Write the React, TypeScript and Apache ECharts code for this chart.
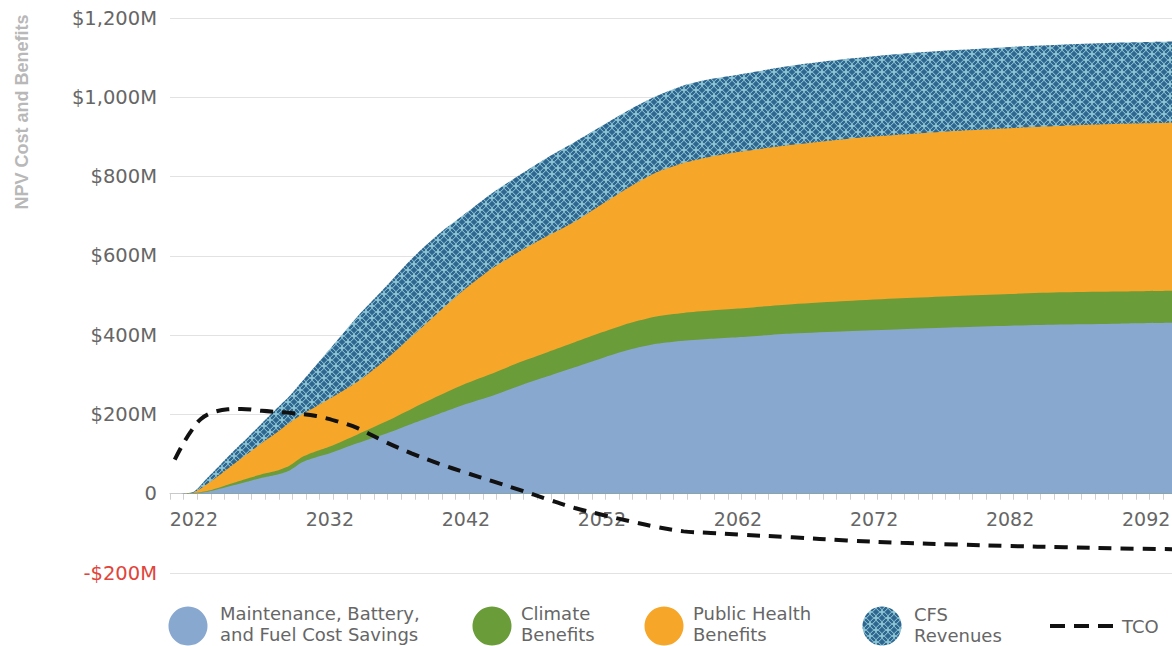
import React, { useEffect, useRef } from 'react';
import * as echarts from 'echarts';

// ---- data (values in $M, NPV) ----
const years = [2021, 2022, 2023, 2024, 2025, 2026, 2027, 2028, 2029, 2030, 2031, 2032, 2034, 2036, 2038, 2040, 2042, 2044, 2046, 2048, 2050, 2052, 2054, 2056, 2058, 2060, 2062, 2066, 2070, 2074, 2078, 2082, 2086, 2090, 2094];
const maintenance = [0, 1, 5, 13, 22, 31, 40, 47, 58, 80, 92, 102, 127, 150, 176, 201, 226, 248, 273, 296, 319, 342, 363, 378, 386, 391, 395, 404, 410, 415, 420, 424, 427, 429, 431];
const climate = [0, 1, 2, 4, 6, 8, 9, 10, 12, 13, 15, 17, 22, 30, 38, 46, 52, 56, 59, 61, 63, 65, 67, 69, 70, 71, 72, 74, 76, 78, 79, 80, 81, 81, 81];
const publicHealth = [0, 1, 18, 33, 48, 63, 79, 95, 108, 108, 113, 121, 133, 155, 182, 211, 240, 266, 280, 293, 304, 323, 343, 363, 378, 388, 395, 402, 409, 413, 416, 418, 420, 423, 424];
const cfsRevenues = [0, 2, 15, 25, 34, 41, 50, 60, 67, 84, 105, 125, 164, 183, 196, 197, 190, 190, 193, 198, 201, 198, 195, 193, 196, 196, 195, 200, 202, 204, 204, 205, 205, 205, 205];

const tcoYears = [2020.6, 2021.2, 2021.8, 2022.5, 2023.3, 2024.5, 2025.5, 2027, 2029, 2031, 2032.5, 2034, 2036, 2038, 2040, 2042, 2044, 2046, 2048, 2050, 2052, 2054, 2056, 2058, 2060, 2062, 2066, 2070, 2074, 2078, 2082, 2086, 2090, 2094];
const tcoValues = [86, 125, 158, 188, 204, 213, 214, 209, 204, 196, 183, 166, 132, 102, 76, 53, 31, 9, -14, -36, -53, -69, -84, -95, -99, -103, -110, -118, -124, -128, -132, -135, -138, -140];

const xLabelYears = [2022, 2032, 2042, 2052, 2062, 2072, 2082, 2092];
const X_MIN = 2020.25;
const X_MAX = 2093.9;
const Y_MIN = -200;
const Y_MAX = 1200;
const Y_STEP = 200;

const legendLabels = [
  'Maintenance, Battery,\nand Fuel Cost Savings',
  'Climate\nBenefits',
  'Public Health\nBenefits',
  'CFS\nRevenues',
  'TCO',
];

const COLORS = {
  maintenance: '#89a8d0',
  climate: '#6a9c3a',
  health: '#f6a629',
  cfsDark: '#2f6690',
  cfsLight: '#97cfdb',
  tco: '#111111',
};

const FONT = '"DejaVu Sans", sans-serif';

function makePattern(): HTMLCanvasElement {
  const T = 12;
  const c = document.createElement('canvas');
  c.width = T;
  c.height = T;
  const ctx = c.getContext('2d')!;
  ctx.fillStyle = COLORS.cfsDark;
  ctx.fillRect(0, 0, T, T);
  ctx.strokeStyle = COLORS.cfsLight;
  ctx.lineWidth = 1.0;
  const r = T / 2;
  const centers = [[0, 0], [T, 0], [0, T], [T, T], [r, r]];
  for (const [cx, cy] of centers) {
    ctx.beginPath();
    ctx.arc(cx, cy, r, 0, Math.PI * 2);
    ctx.stroke();
  }
  return c;
}

// running totals of the stacked layers (each layer is drawn from 0 up to its cumulative top)
function cumulate(...layers: number[][]): number[] {
  return years.map((_, i) => layers.reduce((s, l) => s + l[i], 0));
}

export default function App() {
  const ref = useRef<HTMLDivElement>(null);

  useEffect(() => {
    if (!ref.current) return;
    const chart = echarts.init(ref.current, null, { renderer: 'svg' });
    const patternCanvas = makePattern();
    const pattern: any = { image: patternCanvas, repeat: 'repeat' };

    const tickYears: number[] = [];
    for (let v = X_MIN; v <= X_MAX; v += 1) tickYears.push(v);

    const topMaint = cumulate(maintenance);
    const topClimate = cumulate(maintenance, climate);
    const topHealth = cumulate(maintenance, climate, publicHealth);
    const topCfs = cumulate(maintenance, climate, publicHealth, cfsRevenues);

    const areaSeries = (name: string, tops: number[], color: any, legendColor: string, z: number) => ({
      name,
      type: 'line',
      xAxisIndex: 0,
      yAxisIndex: 0,
      data: years.map((y, i) => [y, tops[i]]),
      smooth: 0.25,
      showSymbol: false,
      symbol: 'none',
      lineStyle: { width: 0, opacity: 0 },
      itemStyle: { color: legendColor },
      areaStyle: { color, opacity: 1, origin: 0 },
      z,
    });

    const textStyle = (text: string) => ({
      text,
      fill: '#666666',
      font: `18px ${FONT}`,
      lineHeight: 21,
      textVerticalAlign: 'middle',
    });

    const legendY = 626;
    // pixel row of the value 0 in the main grid: top 18, bottom 573
    const zeroBottom = 646 - (18 + (573 - 18) * (Y_MAX - 0) / (Y_MAX - Y_MIN));

    chart.setOption({
      animation: false,
      grid: [
        { left: 170, right: 0, top: 18, bottom: 73, outerBoundsMode: 'none', containLabel: false },
        { left: 170, right: 0, top: 18, bottom: zeroBottom, outerBoundsMode: 'none', containLabel: false },
      ],
      xAxis: [
        {
          type: 'value',
          gridIndex: 0,
          min: X_MIN,
          max: X_MAX,
          show: false,
          splitLine: { show: false },
        },
        {
          type: 'value',
          gridIndex: 1,
          min: X_MIN,
          max: X_MAX,
          splitLine: { show: false },
          axisLine: { show: true, onZero: false, lineStyle: { color: '#c9c9c9', width: 1 } },
          axisTick: { show: true, customValues: tickYears, length: 6, lineStyle: { color: '#cfcfcf' } },
          axisLabel: {
            customValues: xLabelYears,
            formatter: (v: number) => String(Math.round(v)),
            color: '#666666',
            fontFamily: FONT,
            fontSize: 19,
            margin: 16,
          },
        },
      ],
      yAxis: [
        {
          type: 'value',
          gridIndex: 0,
          min: Y_MIN,
          max: Y_MAX,
          interval: Y_STEP,
          axisLine: { show: false },
          axisTick: { show: false },
          splitLine: { show: true, lineStyle: { color: '#e2e2e2', width: 1 } },
          axisLabel: {
            margin: 13,
            color: '#666666',
            fontFamily: FONT,
            fontSize: 19.5,
            formatter: (v: number) => {
              if (v === 0) return '0';
              if (v < 0) return `{neg|-$${Math.abs(v).toLocaleString('en-US')}M}`;
              return `$${v.toLocaleString('en-US')}M`;
            },
            rich: {
              neg: { color: '#e0443a', fontFamily: FONT, fontSize: 19.5 },
            },
          },
        },
        {
          type: 'value',
          gridIndex: 1,
          min: 0,
          max: 1,
          show: false,
          splitLine: { show: false },
        },
      ],
      series: [
        areaSeries('CFS Revenues', topCfs, pattern, COLORS.cfsDark, 1),
        areaSeries('Public Health Benefits', topHealth, COLORS.health, COLORS.health, 2),
        areaSeries('Climate Benefits', topClimate, COLORS.climate, COLORS.climate, 3),
        areaSeries('Maintenance, Battery, and Fuel Cost Savings', topMaint, COLORS.maintenance, COLORS.maintenance, 4),
        {
          name: 'TCO',
          type: 'line',
          xAxisIndex: 0,
          yAxisIndex: 0,
          data: tcoYears.map((y, i) => [y, tcoValues[i]]),
          smooth: 0.35,
          showSymbol: false,
          symbol: 'none',
          lineStyle: { color: COLORS.tco, width: 4, type: [13, 9], cap: 'butt' },
          z: 6,
        },
      ],
      graphic: [
        {
          type: 'text',
          x: 22,
          y: 112,
          rotation: Math.PI / 2,
          style: {
            text: 'NPV Cost and Benefits',
            fill: '#b8b8b8',
            font: `bold 18px "Liberation Sans", Arial, sans-serif`,
            textAlign: 'center',
            textVerticalAlign: 'middle',
          },
        },
        { type: 'circle', shape: { cx: 188, cy: legendY, r: 19.5 }, style: { fill: COLORS.maintenance } },
        { type: 'text', x: 220, y: 624, style: textStyle(legendLabels[0]) },
        { type: 'circle', shape: { cx: 492, cy: legendY, r: 19.5 }, style: { fill: COLORS.climate } },
        { type: 'text', x: 521, y: 624, style: textStyle(legendLabels[1]) },
        { type: 'circle', shape: { cx: 664, cy: legendY, r: 19.5 }, style: { fill: COLORS.health } },
        { type: 'text', x: 693, y: 624, style: textStyle(legendLabels[2]) },
        { type: 'circle', shape: { cx: 882, cy: legendY, r: 19.5 }, style: { fill: pattern } },
        { type: 'text', x: 914, y: 625, style: textStyle(legendLabels[3]) },
        {
          type: 'line',
          shape: { x1: 1050, y1: legendY, x2: 1113, y2: legendY },
          style: { stroke: COLORS.tco, lineWidth: 4, lineDash: [15, 9] },
        },
        { type: 'text', x: 1122, y: legendY, style: textStyle(legendLabels[4]) },
      ],
    });

    return () => chart.dispose();
  }, []);

  return (
    <div
      ref={ref}
      style={{ position: 'fixed', left: 0, top: 0, width: 1172, height: 646, background: '#ffffff' }}
    />
  );
}
